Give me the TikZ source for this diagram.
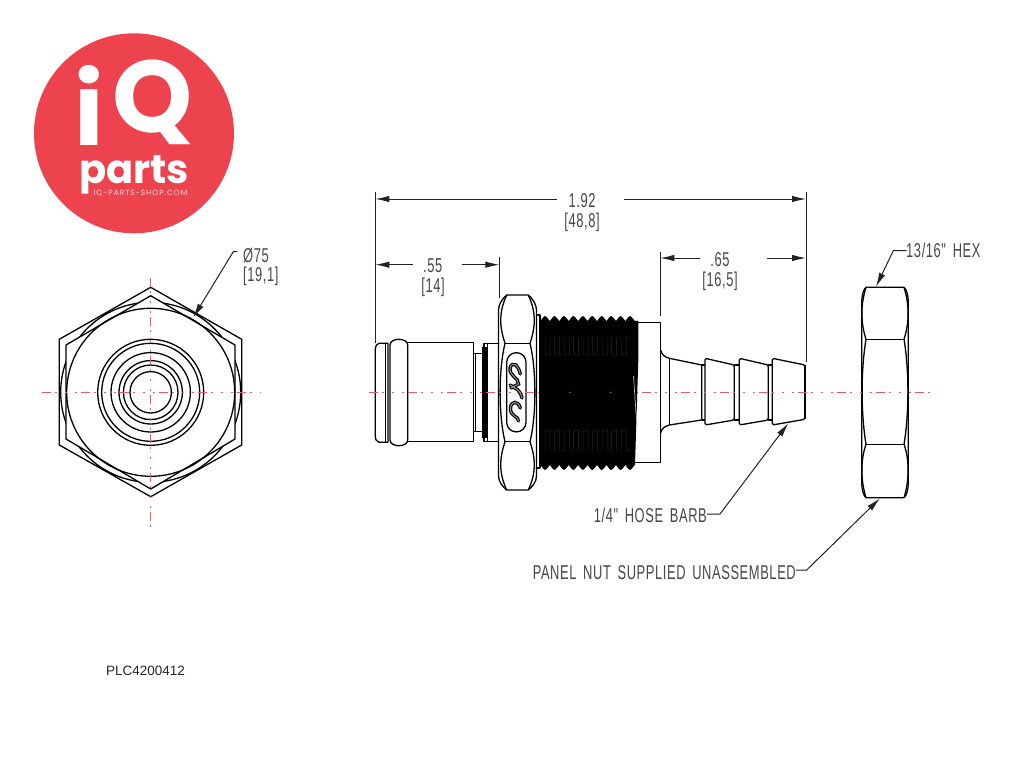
\documentclass[tikz,border=0pt]{standalone}
\usepackage{fontspec}
\usetikzlibrary{arrows.meta}
\setmainfont{Liberation Sans}
\newfontfamily\cadfont[FakeStretch=0.645,LetterSpace=3,WordSpace=1.6]{Liberation Sans}
\newfontfamily\logofont{Poppins}
\newfontfamily\urlfont[LetterSpace=12]{Poppins}
\definecolor{logored}{HTML}{EC434E}
\definecolor{cline}{HTML}{F05A5A}
\definecolor{dimgrey}{HTML}{222222}
\tikzset{
  part/.style={draw=black,line width=1.3pt,line join=round},
  thin part/.style={draw=black,line width=1pt},
  centre/.style={draw=cline,line width=1.1pt,dash pattern=on 9pt off 4pt on 2pt off 8pt on 2pt off 8pt on 2pt off 4pt},
  dimline/.style={draw=dimgrey,line width=1pt},
  dimarrow/.style={draw=dimgrey,line width=1pt,-{Latex[length=14pt,width=6.5pt]}},
  cadtext/.style={inner sep=0pt,text=black!72,font=\cadfont\fontsize{20}{20}\selectfont},
  logotext/.style={inner sep=0pt,text=white},
}
\begin{document}
\begin{tikzpicture}[x=1pt,y=-1pt]
\useasboundingbox (0,0) rectangle (1024,768);
\fill[white] (0,0) rectangle (1024,768);

% ---------- logo
\fill[logored] (134,133.3) circle[radius=100pt];
\node[logotext,font=\logofont\bfseries\fontsize{100}{100}\selectfont,anchor=base] (logoi) at (89.7,145) {i};
\node[logotext,font=\logofont\bfseries\fontsize{102}{102}\selectfont,anchor=base] (logoq) at (152.5,132) {Q};
\node[logotext,font=\logofont\bfseries\fontsize{40}{40}\selectfont,anchor=base] (logoparts) at (134,183) {parts};
\node[inner sep=0pt,text=white!80!logored,font=\urlfont\fontsize{7.6}{8}\selectfont,anchor=base] (logourl) at (140.5,195.5) {IQ-PARTS-SHOP.COM};

% ---------- end view
\coordinate (ev) at (150.7,392.3);
\draw[part] (150.7,287.3) -- (241.7,339.3) -- (241.7,445) -- (150.7,496.7) -- (59.3,445) -- (59.3,339.3) -- cycle;
\begin{scope}
  \clip (150.7,287.3) -- (241.7,339.3) -- (241.7,445) -- (150.7,496.7) -- (59.3,445) -- (59.3,339.3) -- cycle;
  \draw[part] (ev) circle[radius=90pt];
\end{scope}
\filldraw[part,fill=white] (150.7,295.7) -- (235,345) -- (235,439) -- (150.7,489) -- (66,439) -- (66,345) -- cycle;
\foreach \r in {84,53,49,39.7,31.7,27.3,20.7}
  \draw[part] (ev) circle[radius=\r pt];
\draw[centre] (42,392.3) -- (261,392.3);
\draw[centre] (150.7,278) -- (150.7,530);

% ---------- plug
\draw[part] (385,343.3) -- (379,343.3) .. controls (376.5,344) and (375.3,346) .. (375.3,349) -- (375.3,436) .. controls (375.3,439.5) and (376.5,441.5) .. (379,442.3) -- (388,442.3) -- (388,343.3) -- cycle;
\draw[thin part] (385,343.3) -- (385,442.3);
\draw[part] (390,345) .. controls (390,341) and (395,339.3) .. (398.5,339.3) .. controls (403,339.3) and (407.7,341) .. (407.7,345) -- (407.7,440) .. controls (407.7,444) and (403,445.7) .. (398.5,445.7) .. controls (395,445.7) and (390,444) .. (390,440) -- cycle;
\draw[part] (407.7,342.3) -- (473.3,342.3) -- (473.3,441.7) -- (407.7,441.7);
\draw[part] (473.3,353.3) -- (484,353.3) (473.3,431.7) -- (484,431.7);
\draw[thin part] (475.5,353.3) -- (475.5,431.7);
\draw[part] (484,343.3) -- (498.3,343.3) (484,441.7) -- (498.3,441.7) (484,343.3) -- (484,441.7);
\fill[black] (482,347) rectangle (487.5,438);
\draw[thin part] (487.5,343.3) -- (487.5,441.7);

% ---------- hex flange
\draw[part] (506.7,295) -- (528.3,295) .. controls (532,298) and (536.5,304) .. (536.5,310) -- (536.5,476) .. controls (536.5,482) and (532,487) .. (528.3,490) -- (506.7,490) .. controls (503,487) and (498.5,482) .. (498.5,476) -- (498.5,310) .. controls (498.5,304) and (503,298) .. (506.7,295) -- cycle;
\draw[part] (505,343.3) -- (530,343.3) (505,441.7) -- (530,441.7);
\draw[part] (505,343.3) .. controls (499,325) and (499,312) .. (506.7,295);
\draw[part] (530,343.3) .. controls (536,325) and (536,312) .. (528.3,295);
\draw[part] (505,441.7) .. controls (499,460) and (499,473) .. (506.7,490);
\draw[part] (530,441.7) .. controls (536,460) and (536,473) .. (528.3,490);
\draw[part] (505,343.3) .. controls (498.5,370) and (498.5,415) .. (505,441.7);
\draw[part] (530,343.3) .. controls (536.5,370) and (536.5,415) .. (530,441.7);
\draw[part,rounded corners=9.5pt] (506.7,352.7) rectangle (526,431.9);
% CPC mark
\foreach \w/\c in {3.4pt/black,1pt/black!40}{
  \draw[draw=\c,line width=\w,line cap=round] (520.3,374) .. controls (518,364) and (512,361) .. (510,368) .. controls (509,376) and (519,378) .. (518.5,384) -- (511,388);
  \draw[draw=\c,line width=\w,line cap=round] (510,385) -- (515,388) .. controls (519,390) and (521,394) .. (522,398);
  \draw[draw=\c,line width=\w,line cap=round] (520.3,408) .. controls (518,400) and (511,401) .. (510.5,408) .. controls (510,417) and (519,416) .. (518.5,421);
}

% ---------- shoulder and barb
\draw[part] (638.3,322.3) -- (660.7,322.3) -- (660.7,462.3) -- (635,462.3);
\draw[part] (660.7,350) .. controls (661.5,354) and (664,357) .. (669.3,358.3) -- (701.7,365) -- (701.7,420) -- (669.3,425) .. controls (664,426.5) and (661.5,429) .. (660.7,433);
\draw[part] (669.3,358.3) -- (669.3,425);
\draw[part,rounded corners=1.5pt] (705,358.3) -- (734.3,365) -- (734.3,420) -- (705,425) -- cycle;
\draw[part] (701.7,365) -- (705,365) (701.7,420) -- (705,420);
\draw[part,rounded corners=1.5pt] (739.3,358.3) -- (768.3,365) -- (768.3,420) -- (739.3,425) -- cycle;
\draw[part] (734.3,365) -- (739.3,365) (734.3,420) -- (739.3,420);
\draw[part,rounded corners=1.5pt] (772.3,358.3) -- (805,365) -- (805,419.3) -- (772.3,425) -- cycle;
\draw[part] (768.3,365) -- (772.3,365) (768.3,420) -- (772.3,420);
\fill[black] (803.5,365) rectangle (806,419.3);

% ---------- panel nut
\draw[part] (866,287.3) -- (904,287.3) .. controls (906.5,289) and (908.3,296) .. (908.3,302) -- (908.3,483) .. controls (908.3,489) and (906.5,496) .. (904,497.7) -- (866,497.7) .. controls (863.5,496) and (861.7,489) .. (861.7,483) -- (861.7,302) .. controls (861.7,296) and (863.5,289) .. (866,287.3) -- cycle;
\draw[part] (866,339.3) -- (904,339.3) (866,444.3) -- (904,444.3);
\draw[part] (866,287.3) .. controls (860.5,305) and (860.5,322) .. (866,339.3);
\draw[part] (904,287.3) .. controls (909.5,305) and (909.5,322) .. (904,339.3);
\draw[part] (866,444.3) .. controls (860.5,460) and (860.5,480) .. (866,497.7);
\draw[part] (904,444.3) .. controls (909.5,460) and (909.5,480) .. (904,497.7);
\draw[part] (866,339.3) .. controls (860.8,370) and (860.8,413) .. (866,444.3);
\draw[part] (904,339.3) .. controls (909.2,370) and (909.2,413) .. (904,444.3);

% ---------- side view centre line
\draw[centre] (369,392.3) -- (930,392.3);

% ---------- washer and thread
\draw[part] (536.5,315) -- (540,315) -- (540,468) -- (536.5,468);
\fill[black] (540,321) \foreach \i in {0,...,9}{
    -- ({540.5+9.44*\i},321) .. controls ({543+9.44*\i},317.5) and ({544+9.44*\i},316) .. ({545+9.44*\i},316) .. controls ({546+9.44*\i},316) and ({547+9.44*\i},317.5) .. ({549.9+9.44*\i},321)
  } -- (638.3,320.7) -- (638.3,360) -- (635,465)
  \foreach \i in {9,8,...,0}{
    -- ({549.9+9.44*\i},465) .. controls ({547+9.44*\i},468.5) and ({546+9.44*\i},470) .. ({545+9.44*\i},470) .. controls ({544+9.44*\i},470) and ({543+9.44*\i},468.5) .. ({540.5+9.44*\i},465)
  } -- (540,465) -- cycle;
\draw[draw=black!85,line width=0.5pt] (545,337) \foreach \i in {0,...,8}{ -- ++(0,16) .. controls ++(1,3) and ++(4,3) .. ++(5,0) -- ++(0,-16) -- ++(4.5,0) } ;
\draw[draw=black!85,line width=0.5pt] (545,450) \foreach \i in {0,...,8}{ -- ++(0,-18) .. controls ++(1,-3) and ++(4,-3) .. ++(5,0) -- ++(0,18) -- ++(4.5,0) } ;
\fill[cline] (570,392.3) circle[radius=0.8pt] (610.7,392.3) circle[radius=0.8pt];
\draw[draw=black!25,line width=0.7pt] (633.5,376) -- (636.5,420);

% ---------- dimensions
\coordinate (ea1) at (375.3,192); \coordinate (ea2) at (375.3,343);
\coordinate (eb1) at (806,192);   \coordinate (eb2) at (806,362);
\coordinate (ec1) at (499.3,257); \coordinate (ec2) at (499.3,298);
\coordinate (ed1) at (660.3,252); \coordinate (ed2) at (660.3,316);
\draw[dimline] (ea1) -- (ea2) (eb1) -- (eb2) (ec1) -- (ec2) (ed1) -- (ed2);

\node[cadtext,anchor=base] (d192) at (582,207.3) {1.92};
\node[cadtext,anchor=base] (d192m) at (582,227.3) {[48,8]};
\coordinate (a1) at (375.3,199); \coordinate (a2) at (557.3,199);
\coordinate (a3) at (806,199);   \coordinate (a4) at (624,199);
\draw[dimarrow] (a2) -- (a1);
\draw[dimarrow] (a4) -- (a3);

\node[cadtext,anchor=base] (d55) at (432.7,272.7) {.55};
\node[cadtext,anchor=base] (d55m) at (433,292.7) {[14]};
\coordinate (b1) at (375.3,264.7); \coordinate (b2) at (412.7,264.7);
\coordinate (b3) at (499.3,264.7); \coordinate (b4) at (461.7,264.7);
\draw[dimarrow] (b2) -- (b1);
\draw[dimarrow] (b4) -- (b3);

\node[cadtext,anchor=base] (d65) at (720,266) {.65};
\node[cadtext,anchor=base] (d65m) at (720,286.7) {[16,5]};
\coordinate (c1) at (660.3,258); \coordinate (c2) at (700,258);
\coordinate (c3) at (806,258);   \coordinate (c4) at (766.7,258);
\draw[dimarrow] (c2) -- (c1);
\draw[dimarrow] (c4) -- (c3);

% ---------- leaders
\node[cadtext,anchor=base west] (dia) at (243,262.7) {Ø75};
\node[cadtext,anchor=base west] (diam) at (243,281.7) {[19,1]};
\coordinate (dia0) at (237.3,251.7); \coordinate (dia1) at (233.3,251.7); \coordinate (dia2) at (193.3,317.3);
\draw[dimarrow] (dia0) -- (dia1) -- (dia2);

\node[cadtext,anchor=base west] (hex) at (906,257.3) {13/16" HEX};
\coordinate (hex0) at (906.7,250.7); \coordinate (hex1) at (893.3,250.7); \coordinate (hex2) at (876,286.7);
\draw[dimarrow] (hex0) -- (hex1) -- (hex2);

\node[cadtext,anchor=base east] (barb) at (707,522.3) {1/4" HOSE BARB};
\coordinate (barb0) at (707,514); \coordinate (barb1) at (720,514); \coordinate (barb2) at (788.3,423.3);
\draw[dimarrow] (barb0) -- (barb1) -- (barb2);

\node[cadtext,anchor=base east] (nut) at (796,579) {PANEL NUT SUPPLIED UNASSEMBLED};
\coordinate (nut0) at (796,570); \coordinate (nut1) at (806.7,570); \coordinate (nut2) at (880,498.3);
\draw[dimarrow] (nut0) -- (nut1) -- (nut2);

% ---------- part number
\node[inner sep=0pt,anchor=west,text=black!85,font=\fontsize{13.5}{14}\selectfont] (pn) at (106,670.5) {PLC4200412};
\end{tikzpicture}
\end{document}
